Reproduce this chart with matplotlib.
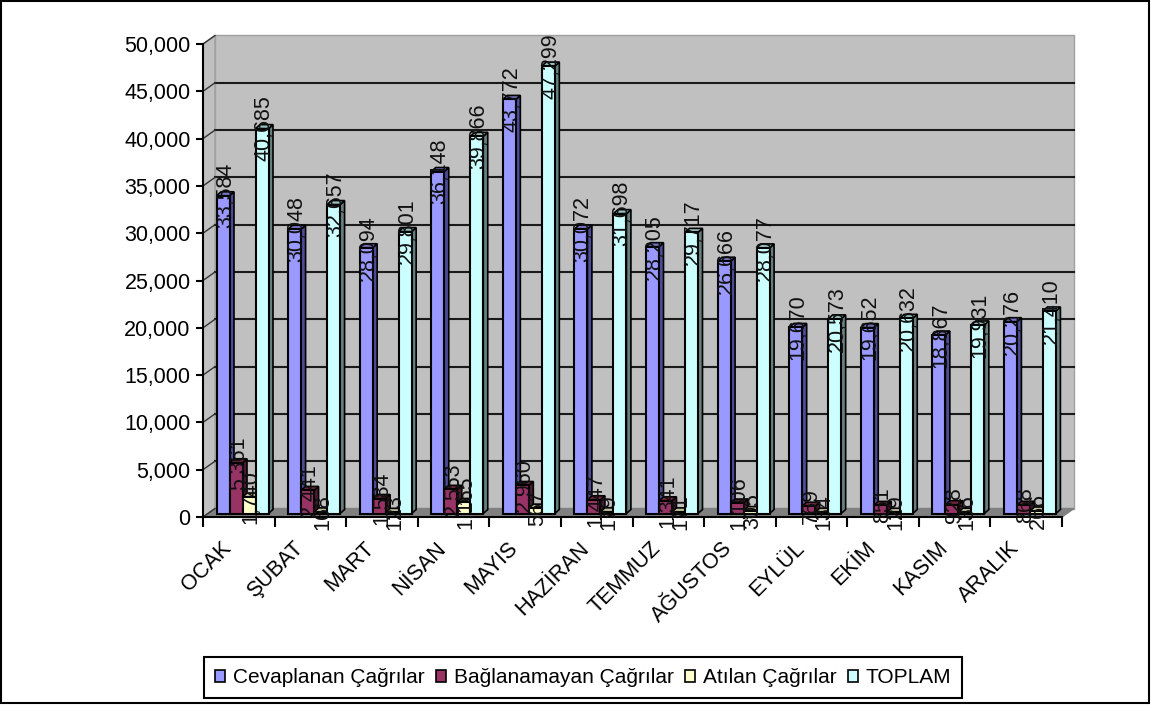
import matplotlib
matplotlib.use("Agg")
import matplotlib.pyplot as plt
from matplotlib.patches import Polygon, Rectangle, Patch

months = ["OCAK", "ŞUBAT", "MART", "NİSAN", "MAYIS", "HAZİRAN", "TEMMUZ",
          "AĞUSTOS", "EYLÜL", "EKİM", "KASIM", "ARALIK"]
cevaplanan = [33584, 30048, 28094, 36148, 43772, 30072, 28205, 26666, 19670, 19652, 18867, 20276]
baglanamayan = [5361, 2441, 1584, 2553, 2960, 1447, 1341, 1106, 769, 851, 928, 868]
atilan = [1740, 168, 123, 1165, 567, 179, 171, 305, 134, 129, 136, 266]
toplam = [40685, 32657, 29801, 39866, 47299, 31698, 29717, 28077, 20573, 20632, 19931, 21410]
series_names = ["Cevaplanan Çağrılar", "Bağlanamayan Çağrılar", "Atılan Çağrılar", "TOPLAM"]
yticks = [0, 5000, 10000, 15000, 20000, 25000, 30000, 35000, 40000, 45000, 50000]

W, H = 1151, 707
AX_L, AX_R, AX_B, AX_T = 203, 1062, 517, 44
PX_X = (AX_R - AX_L) / 12
PX_Y = (AX_B - AX_T) / 50000

face = ["#9999FF", "#993366", "#FFFFCC", "#CCFFFF"]
side = ["#4C4C99", "#4C1A33", "#808066", "#668080"]
top = ["#7373BF", "#732640", "#BFBF99", "#99BFBF"]

plt.rcParams["font.family"] = ["Liberation Sans", "DejaVu Sans"]
fig = plt.figure(figsize=(W / 100, H / 100), dpi=100)
ax = fig.add_axes([AX_L / W, 1 - AX_B / H, (AX_R - AX_L) / W, (AX_B - AX_T) / H])
ax.set_xlim(0, 12)
ax.set_ylim(0, 50000)
ax.patch.set_visible(False)


def dx(px):
    return px / PX_X


def dy(px):
    return px / PX_Y


# walls and floor
wx, wy = dx(12), dy(8.5)
ax.add_patch(Polygon([(wx, wy), (12 + wx, wy), (12 + wx, 50000 + wy), (wx, 50000 + wy)],
                     fc="#C0C0C0", ec="#A0A0A0", lw=1, clip_on=False, zorder=1))
ax.add_patch(Polygon([(0, 0), (wx, wy), (wx, 50000 + wy), (0, 50000)],
                     fc="#C0C0C0", ec="#A0A0A0", lw=1, clip_on=False, zorder=1))
ax.add_patch(Polygon([(0, 0), (12, 0), (12 + wx, wy), (wx, wy)],
                     fc="#808080", ec="#808080", lw=1, clip_on=False, zorder=1))
for t in yticks[1:-1]:
    ax.plot([wx, 12 + wx], [t + wy, t + wy], color="#1a1a1a", lw=1.5, clip_on=False, zorder=2)
for t in yticks:
    ax.plot([0, wx], [t, t + wy], color="#333333", lw=1, clip_on=False, zorder=2)

# bars
bw = dx(13)
off_x, off_y = dx(13.5), dy(3.5)
dep_x, dep_y = dx(4.5), dy(4)
all_series = [cevaplanan, baglanamayan, atilan, toplam]
for g in range(12):
    for s, vals in enumerate(all_series):
        x0 = g + off_x + s * bw
        x1 = x0 + bw
        y0 = off_y
        y1 = off_y + vals[g]
        z = 3 + g + s * 0.01
        ax.add_patch(Polygon([(x1, y0), (x1 + dep_x, y0 + dep_y), (x1 + dep_x, y1 + dep_y), (x1, y1)],
                             fc=side[s], ec="black", lw=1.2, clip_on=False, zorder=z))
        ax.add_patch(Polygon([(x0, y1), (x1, y1), (x1 + dep_x, y1 + dep_y), (x0 + dep_x, y1 + dep_y)],
                             fc=top[s], ec="black", lw=1.2, clip_on=False, zorder=z))
        ax.add_patch(Rectangle((x0, y0), bw, vals[g], fc=face[s], ec="black", lw=1.5,
                               clip_on=False, zorder=z + 0.001))
        ax.text(x0 + bw / 2 + dep_x / 2, y1, f"{vals[g]:,}", rotation=90, ha="center", va="center",
                fontsize=15.5, color="#111111", zorder=30, clip_on=False)

# axes
for name in ["top", "right"]:
    ax.spines[name].set_visible(False)
for name in ["left", "bottom"]:
    ax.spines[name].set_linewidth(1.5)
    ax.spines[name].set_zorder(2.5)
ax.set_yticks(yticks)
ax.set_yticklabels([f"{t:,}" for t in yticks], fontsize=15.5)
ax.set_xticks(range(13))
ax.set_xticklabels([])
ax.set_xticks([i + 0.25 for i in range(12)], minor=True)
ax.set_xticklabels(months, minor=True, rotation=45, ha="right", rotation_mode="anchor", fontsize=15.5)
ax.tick_params(axis="x", which="minor", length=0, pad=15)
ax.tick_params(axis="x", which="major", length=7, width=1.5)
ax.tick_params(axis="y", length=5, width=1.5, pad=4)

# legend
handles = [Patch(fc=c, ec="black", lw=1.2) for c in face]
leg = fig.legend(handles, series_names, loc="center", bbox_to_anchor=(583 / W, 1 - 677.5 / H),
                 ncol=4, fontsize=15, frameon=True, fancybox=False, edgecolor="black", framealpha=1,
                 handlelength=0.5, handleheight=0.5, handletextpad=0.35, columnspacing=0.55,
                 borderpad=0.55, borderaxespad=0)
leg.get_frame().set_linewidth(1.5)

# outer frame of the picture
fig.add_artist(Rectangle((0.5 / W, 1 - 703 / H), 1148.5 / W, 702.5 / H, transform=fig.transFigure,
                         fill=False, ec="black", lw=1.5))

fig.savefig("out.png", dpi=100, facecolor="white")
